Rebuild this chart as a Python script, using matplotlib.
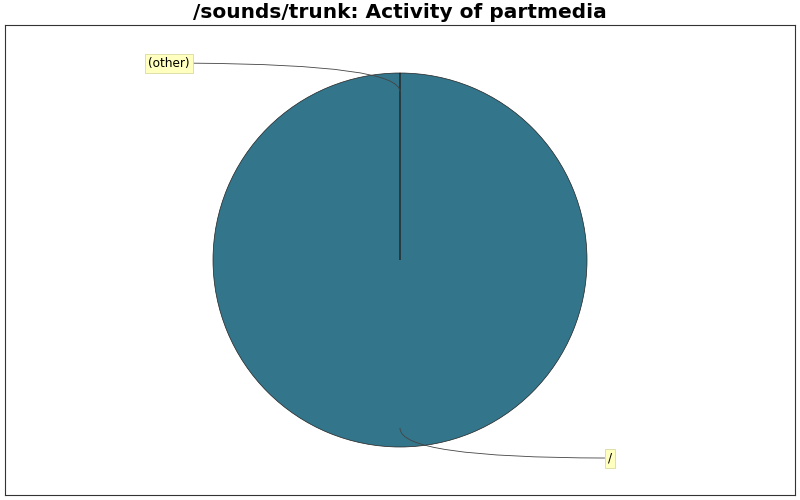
import matplotlib
matplotlib.use('Agg')
import matplotlib.pyplot as plt

# slices of the pie: path name and its share of activity
labels = ['/', '(other)']
shares = [99.999, 0.001]
colors = ['#33758b', '#33758b']

title = '/sounds/trunk: Activity of partmedia'

fig = plt.figure(figsize=(8, 5), dpi=100)
ax = fig.add_axes([5 / 800, 5 / 500, 790 / 800, 470 / 500])

wedges, _ = ax.pie(shares, colors=colors, startangle=90, counterclock=False,
                   radius=1.0, center=(0, 0),
                   wedgeprops=dict(edgecolor='#222222', linewidth=0.5))
wedges[1].set_linewidth(0)

ax.set_aspect('equal')
ax.set_xlim(-395 / 187, 395 / 187)
ax.set_ylim(-235 / 187, 235 / 187)
ax.set_xticks([])
ax.set_yticks([])
ax.set_frame_on(True)
for s in ax.spines.values():
    s.set_color('#333333')
    s.set_linewidth(0.8)

box = dict(boxstyle='square,pad=0.25', facecolor='#ffffbf', edgecolor='#d9d9a0', linewidth=0.6)
# label positions placed by hand to match the original layout
ax.annotate(labels[1], xy=(0, 0.9), xytext=(-1.235, 1.053), fontsize=8.7,
            ha='center', va='center', bbox=box,
            arrowprops=dict(arrowstyle='-', color='#444444', lw=0.6,
                            connectionstyle='angle3,angleA=0,angleB=90',
                            shrinkA=0, shrinkB=0))
ax.annotate(labels[0], xy=(0, -0.9), xytext=(1.123, -1.059), fontsize=8.7,
            ha='center', va='center', bbox=box,
            arrowprops=dict(arrowstyle='-', color='#444444', lw=0.6,
                            connectionstyle='angle3,angleA=0,angleB=90',
                            shrinkA=0, shrinkB=0))

fig.text(0.5, 1 - 13 / 500, title, ha='center', va='center',
         fontsize=14.5, fontweight='bold')

fig.savefig('out.png', dpi=100)
